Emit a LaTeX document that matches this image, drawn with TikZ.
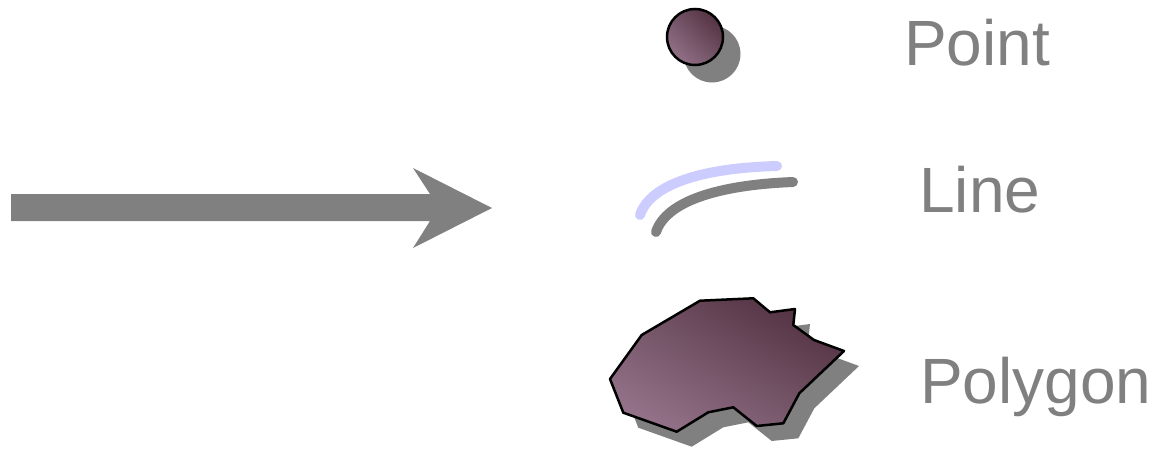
\documentclass[tikz,border=0pt]{standalone}
\usepackage{fontspec}
\setmainfont{Liberation Sans}
\usetikzlibrary{shadings}
\definecolor{shadowgray}{HTML}{808080}
\definecolor{lightplum}{HTML}{9E7B94}
\definecolor{midplum}{HTML}{735466}
\definecolor{darkplum}{HTML}{472535}
\definecolor{lineblue}{HTML}{CCCCFF}
\tikzset{
  lbl/.style={font=\fontsize{64}{77}\selectfont, text=shadowgray, anchor=base west, inner sep=0pt},
  plumfill/.style={lower left=lightplum, upper right=darkplum, upper left=midplum, lower right=midplum},
  curve/.style={line width=10pt, line cap=round}
}
\begin{document}
\begin{tikzpicture}[x=1pt,y=-1pt]
\useasboundingbox (0,0) rectangle (1157,450);
% big arrow
\fill[shadowgray] (11,194) -- (430,194) -- (413,168) -- (492,208) -- (413,248) -- (430,221) -- (11,221) -- cycle;
% point
\fill[shadowgray] (712,54) circle (28.5);
\shade[plumfill, draw=black, line width=2.5pt] (695,37) circle (28);
% line
\draw[curve, shadowgray] (656,232) .. controls (666,202) and (716,185) .. (793,182);
\draw[curve, lineblue] (640,215) .. controls (650,185) and (700,168) .. (777,166);
% polygon
\def\polypath{(700,300.7) -- (753.3,298.3) -- (770,312.3) -- (795,309) -- (793.3,325) -- (814,340) -- (844,351) -- (799.3,393.3) -- (783.3,423.3) -- (756.7,426) -- (733.3,407.3) -- (708.3,412.3) -- (676.7,431.7) -- (623.3,412.7) -- (610,379) -- (641.7,335) -- cycle}
\begin{scope}[shift={(15,15)}]
\fill[shadowgray] \polypath;
\end{scope}
\shade[plumfill, draw=black, line width=2.5pt, line join=round] \polypath;
% labels
\node[lbl] (point) at (904,65) {Point};
\node[lbl] (line) at (919,212) {Line};
\node[lbl] (polygon) at (920,403) {Polygon};
\end{tikzpicture}
\end{document}
